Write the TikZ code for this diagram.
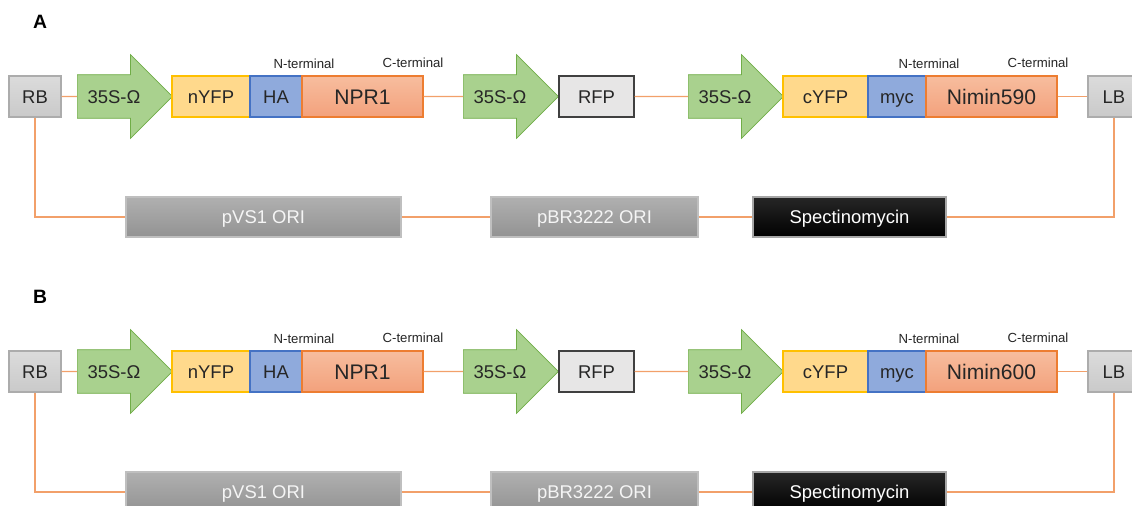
\documentclass[tikz,border=0pt]{standalone}
\usepackage{fontspec}
\setmainfont{Liberation Sans}
\usepackage{tikz}
\usetikzlibrary{shapes.arrows}
\definecolor{promfill}{HTML}{A9D18E}
\definecolor{promdraw}{HTML}{70AD47}
\definecolor{yfpfill}{HTML}{FFD98C}
\definecolor{yfpdraw}{HTML}{FFC000}
\definecolor{tagfill}{HTML}{8FAADC}
\definecolor{tagdraw}{HTML}{4472C4}
\definecolor{genetop}{HTML}{F7BD9E}
\definecolor{genebot}{HTML}{F3A17C}
\definecolor{genedraw}{HTML}{ED7D31}
\definecolor{rfpfill}{HTML}{E7E6E6}
\definecolor{linkorange}{HTML}{F2A06A}

\begin{document}
\begin{tikzpicture}[x=0.02cm,y=-0.02cm,
  font=\fontsize{10.5}{12}\selectfont,
  part/.style={draw,line width=0.7pt,minimum height=0.82cm,inner sep=0pt,
               text height=7.5pt,text depth=0pt,text=black!85},
  ends/.style={part,draw=gray!65,top color=gray!28,bottom color=gray!42,minimum width=1.04cm},
  prom/.style={single arrow,draw=promdraw,fill=promfill,single arrow head extend=0.4cm,
               minimum height=1.9cm,minimum width=0pt,text height=7.5pt,text depth=0pt,
               inner ysep=8.44pt,inner xsep=2pt,anchor=tail,text=black!85},
  yfp/.style={part,draw=yfpdraw,fill=yfpfill},
  tagbox/.style={part,draw=tagdraw,fill=tagfill},
  gene/.style={part,draw=genedraw,top color=genetop,bottom color=genebot,
               font=\fontsize{12}{14}\selectfont,text height=8.6pt},
  rfp/.style={part,draw=black!75,fill=rfpfill,minimum width=1.5cm},
  bb/.style={draw=gray!50,line width=0.7pt,top color=gray!62,bottom color=gray!85,
             minimum height=0.8cm,inner sep=0pt,text height=7.5pt,text depth=0pt,
             text=white!92!gray},
  res/.style={bb,draw=gray!70,top color=black!85,bottom color=black,text=white},
  link/.style={draw=linkorange,line width=0.8pt},
  term/.style={font=\fontsize{7.5}{9}\selectfont,text=black!85},
  panel/.style={font=\fontsize{11}{13}\selectfont\bfseries},
]
\fill[white] (0,0) rectangle (1132,506);
\useasboundingbox (0,0) rectangle (1132,506);

\foreach \pn/\dy/\gene in {A/0/Nimin590,B/275/Nimin600}{
  \node[panel] (lbl\pn) at (40,22+\dy) {\pn};

  % T-DNA cassette
  \node[ends] (rb\pn) at (35,96.5+\dy) {RB};
  \node[prom] (pa\pn) at (77,96.5+\dy) {35S-Ω};
  \node[yfp,minimum width=1.56cm] (ny\pn) at (211,96.5+\dy) {nYFP};
  \node[tagbox,minimum width=1.04cm] (ha\pn) at (276,96.5+\dy) {HA};
  \node[gene,minimum width=2.42cm] (npr\pn) at (362.5,96.5+\dy) {NPR1};
  \node[prom] (pb\pn) at (463,96.5+\dy) {35S-Ω};
  \node[rfp] (rfp\pn) at (596.5,96.5+\dy) {RFP};
  \node[prom] (pc\pn) at (688,96.5+\dy) {35S-Ω};
  \node[yfp,minimum width=1.7cm] (cy\pn) at (825.5,96.5+\dy) {cYFP};
  \node[tagbox,minimum width=1.16cm] (myc\pn) at (897,96.5+\dy) {myc};
  \node[gene,minimum width=2.62cm] (nim\pn) at (991.5,96.5+\dy) {\gene};
  \node[ends] (lb\pn) at (1114,96.5+\dy) {LB};

  % terminal labels
  \node[term] (nta\pn) at (304,64+\dy) {N-terminal};
  \node[term] (cta\pn) at (413,63+\dy) {C-terminal};
  \node[term] (ntb\pn) at (929,64+\dy) {N-terminal};
  \node[term] (ctb\pn) at (1038,63+\dy) {C-terminal};

  % backbone
  \node[bb,minimum width=5.5cm] (vs\pn) at (263.5,217+\dy) {pVS1 ORI};
  \node[bb,minimum width=4.14cm] (br\pn) at (594.5,217+\dy) {pBR3222 ORI};
  \node[res,minimum width=3.86cm] (sp\pn) at (849.5,217+\dy) {Spectinomycin};

  \draw[link] (rb\pn) -- (pa\pn);
  \draw[link] (npr\pn) -- (pb\pn);
  \draw[link] (rfp\pn) -- (pc\pn);
  \draw[link] (nim\pn) -- (lb\pn);
  \draw[link] (rb\pn) |- (vs\pn);
  \draw[link] (vs\pn) -- (br\pn);
  \draw[link] (br\pn) -- (sp\pn);
  \draw[link] (sp\pn) -| (lb\pn);
}
\end{tikzpicture}
\end{document}
